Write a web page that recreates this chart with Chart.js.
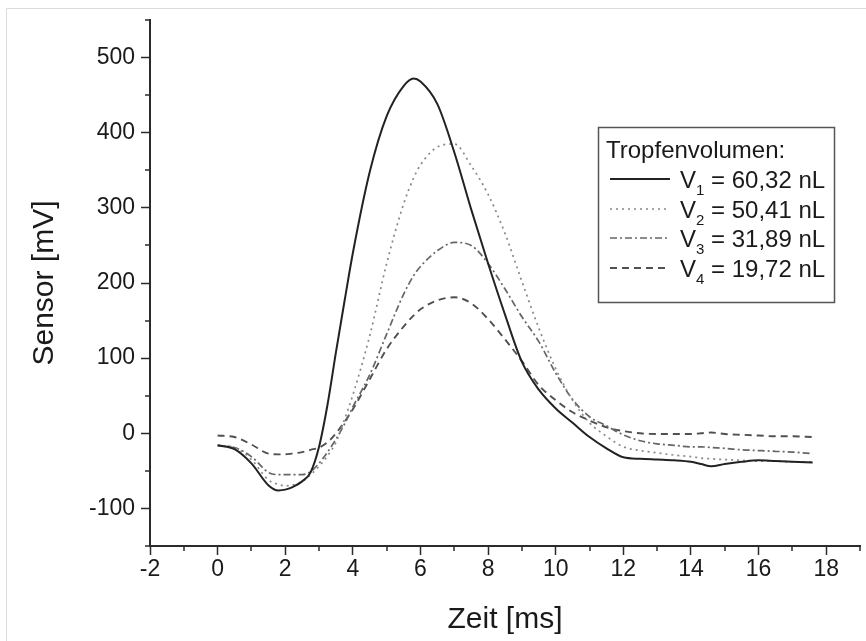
<!DOCTYPE html>
<html><head><meta charset="utf-8">
<script src="https://cdn.jsdelivr.net/npm/chart.js@4"></script>
<style>html,body{margin:0;padding:0;background:#fff}#wrap{width:866px;height:641px;position:relative}</style>
</head><body><div id="wrap"><canvas id="c" width="866" height="641"></canvas></div>
<script>
// ---- data ----
const time = [0,0.5,1,1.5,1.8,2,2.2,2.5,2.75,3,3.25,3.5,3.75,4,4.5,5,5.5,5.8,6,6.5,7,7.5,8,8.5,9,9.5,10,10.5,11,11.5,12,12.5,13,13.5,14,14.3,14.6,15,15.5,16,16.5,17,17.6];
const v1 = [-16,-21,-40,-69,-76,-75,-72,-64,-52,-18,38,108,175,240,348,422,462,472,468,438,374,298,226,158,95,58,33,14,-5,-20,-32,-34,-35,-36,-38,-41,-44,-41,-38,-36,-37,-38,-39];
const v2 = [-16,-19,-35,-62,-68,-70,-69,-64,-55,-44,-30,-12,18,51,130,226,305,340,357,381,385,356,318,266,202,140,86,44,14,-4,-18,-23,-26,-29,-31,-33,-34,-35,-36,-37,-37,-38,-38];
const v3 = [-16,-19,-31,-52,-55,-55,-55,-55,-51,-40,-25,-8,12,35,78,132,185,210,222,243,254,250,226,192,155,122,80,45,22,10,-2,-10,-14,-16,-18,-18,-19,-20,-22,-23,-24,-25,-27];
const v4 = [-3,-5,-15,-27,-28,-28,-27,-25,-22,-19,-12,0,15,32,72,112,142,157,165,177,181,173,152,125,96,64,44,28,17,8,3,0,-1,-1,-1,0,1,-1,-2,-3,-4,-4,-5];
const seriesNames = ['V1 = 60,32 nL','V2 = 50,41 nL','V3 = 31,89 nL','V4 = 19,72 nL'];
const seriesSub = ['1','2','3','4'];
const seriesRest = ['= 60,32 nL','= 50,41 nL','= 31,89 nL','= 19,72 nL'];
const legendTitle = 'Tropfenvolumen:';
const xTicks = [-2,0,2,4,6,8,10,12,14,16,18];
const xMinor = [-1,1,3,5,7,9,11,13,15,17,19];
const yTicks = [-100,0,100,200,300,400,500];
const yMinor = [-150,-50,50,150,250,350,450,550];
const xTitle = 'Zeit [ms]';
const yTitle = 'Sensor [mV]';

const FONT = "'Liberation Sans', Arial, sans-serif";
const AX = '#2b2b2b';

function pts(ys){ return time.map((t,i)=>({x:t,y:ys[i]})); }

const styles = [
  {c:'#222222', w:2, d:[]},
  {c:'#888888', w:1.7, d:[2,4]},
  {c:'#666666', w:1.7, d:[7,3,2,3]},
  {c:'#505050', w:1.9, d:[7,5]}
];
const series = [v1,v2,v3,v4];

const deco = {
  id:'deco',
  beforeDraw(chart){
    const ctx = chart.ctx;
    ctx.save();
    ctx.strokeStyle = '#dcdcdc'; ctx.lineWidth = 1;
    ctx.beginPath(); ctx.moveTo(6.5, 641); ctx.lineTo(6.5, 8.5); ctx.lineTo(866, 8.5); ctx.stroke();
    ctx.restore();
  },
  afterDraw(chart){
    const ctx = chart.ctx, xs = chart.scales.x, ys = chart.scales.y, ca = chart.chartArea;
    ctx.save();
    // minor ticks
    ctx.strokeStyle = AX; ctx.lineWidth = 1.5;
    ctx.beginPath();
    xMinor.forEach(v=>{ const p = Math.round(xs.getPixelForValue(v)); ctx.moveTo(p, ca.bottom); ctx.lineTo(p, ca.bottom+5); });
    yMinor.forEach(v=>{ const p = Math.round(ys.getPixelForValue(v)); ctx.moveTo(ca.left, p); ctx.lineTo(ca.left-5, p); });
    ctx.stroke();
    // axis titles
    ctx.fillStyle = '#1a1a1a';
    ctx.font = "30px " + FONT;
    ctx.textAlign = 'center'; ctx.textBaseline = 'middle';
    ctx.fillText(xTitle, (ca.left+ca.right)/2, 620);
    ctx.translate(45, (ca.top+ca.bottom)/2); ctx.rotate(-Math.PI/2);
    ctx.fillText(yTitle, 0, 0);
    ctx.restore();
    // legend
    ctx.save();
    const bx = 598.5, by = 127.5, bw = 236, bh = 175;
    ctx.strokeStyle = '#555'; ctx.lineWidth = 1.5;
    ctx.strokeRect(bx, by, bw, bh);
    ctx.fillStyle = '#1a1a1a';
    ctx.textBaseline = 'middle'; ctx.textAlign = 'left';
    ctx.font = "24px " + FONT;
    ctx.fillText(legendTitle, 606, 151);
    const rowY = [181, 211, 240, 270];
    chart.data.datasets.forEach((ds,i)=>{
      const y = rowY[i];
      ctx.save();
      ctx.strokeStyle = ds.borderColor; ctx.lineWidth = ds.borderWidth;
      ctx.setLineDash(ds.borderDash);
      ctx.beginPath(); ctx.moveTo(610, y-2); ctx.lineTo(670, y-2); ctx.stroke();
      ctx.restore();
      ctx.font = "24px " + FONT;
      ctx.fillText('V', 680, y);
      const wV = ctx.measureText('V').width;
      ctx.font = "15px " + FONT;
      ctx.fillText(seriesSub[i], 680+wV, y+10);
      const wS = ctx.measureText(seriesSub[i]).width;
      ctx.font = "24px " + FONT;
      ctx.fillText(' ' + seriesRest[i], 680+wV+wS, y);
    });
    ctx.restore();
  }
};

new Chart(document.getElementById('c'), {
  type:'line',
  data:{
    datasets: series.map((s,i)=>({
      label: seriesNames[i], data: pts(s),
      borderColor: styles[i].c, borderWidth: styles[i].w, borderDash: styles[i].d,
      pointRadius:0, cubicInterpolationMode:'monotone', fill:false
    }))
  },
  options:{
    responsive:false, animation:false, devicePixelRatio:1,
    layout:{padding:{top:20,right:6,left:0,bottom:0}},
    plugins:{legend:{display:false}, tooltip:{enabled:false}},
    scales:{
      x:{
        type:'linear', min:-2, max:19,
        afterBuildTicks(s){ s.ticks = xTicks.map(v=>({value:v})); },
        afterFit(s){ s.height = 95; },
        grid:{drawOnChartArea:false, drawTicks:true, tickLength:9, tickColor:AX, tickWidth:1.5},
        border:{display:true, color:AX, width:2},
        ticks:{color:'#1a1a1a', font:{family:FONT, size:23}, padding:1, maxRotation:0, autoSkip:false}
      },
      y:{
        type:'linear', min:-150, max:550,
        afterBuildTicks(s){ s.ticks = yTicks.map(v=>({value:v})); },
        afterFit(s){ s.width = 150; },
        grid:{drawOnChartArea:false, drawTicks:true, tickLength:9, tickColor:AX, tickWidth:1.5},
        border:{display:true, color:AX, width:2},
        ticks:{color:'#1a1a1a', font:{family:FONT, size:23}, padding:6}
      }
    }
  },
  plugins:[deco]
});
</script></body></html>
